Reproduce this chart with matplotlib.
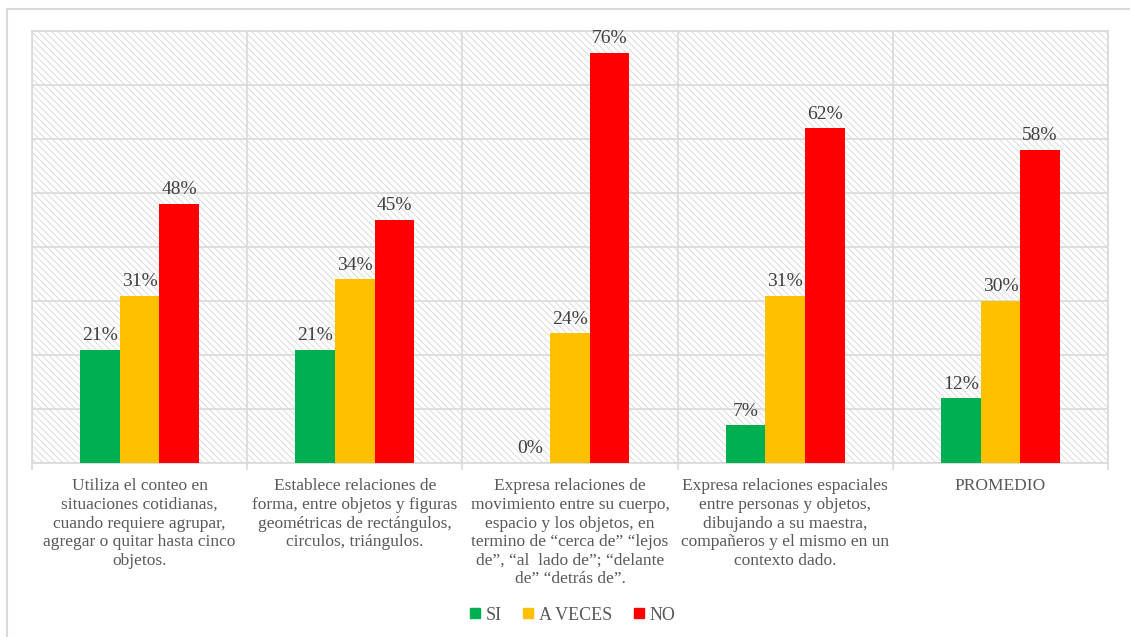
import numpy as np
import matplotlib.pyplot as plt
from matplotlib.patches import Rectangle
from matplotlib.lines import Line2D

plt.rcParams['font.family'] = ['Liberation Serif', 'DejaVu Serif']
plt.rcParams['hatch.linewidth'] = 0.6

# datos del gráfico
categorias = [
    "Utiliza el conteo en\nsituaciones cotidianas,\ncuando requiere agrupar,\nagregar o quitar hasta cinco\nobjetos.",
    "Establece relaciones de\nforma, entre objetos y figuras\ngeométricas de rectángulos,\ncirculos, triángulos.",
    "Expresa relaciones de\nmovimiento entre su cuerpo,\nespacio y los objetos, en\ntermino de “cerca de” “lejos\nde”, “al  lado de”; “delante\nde” “detrás de”.",
    "Expresa relaciones espaciales\nentre personas y objetos,\ndibujando a su maestra,\ncompañeros y el mismo en un\ncontexto dado.",
    "PROMEDIO",
]
series = ["SI", "A VECES", "NO"]
si = [21, 21, 0, 7, 12]
a_veces = [31, 34, 24, 31, 30]
no = [48, 45, 76, 62, 58]
colores = ["#00B050", "#FFC000", "#FF0000"]

gris = "#d9d9d9"
fig = plt.figure(figsize=(11.3, 6.37), dpi=100)

# marco exterior
fig.add_artist(Rectangle((7 / 1130, -0.1), 1.2, 1 - 9 / 637 + 0.1, transform=fig.transFigure,
                         fill=False, edgecolor=gris, lw=1.5))

ax = fig.add_axes([32 / 1130, 1 - 463 / 637, (1108 - 32) / 1130, (463 - 31) / 637])
ax.set_facecolor("white")
ax.add_patch(Rectangle((0, 0), 1, 1, transform=ax.transAxes, facecolor="white",
                       edgecolor="#d6d6d6", hatch="\\\\\\\\\\", lw=0, zorder=0))

x = np.arange(len(categorias))
w = 0.184
for k, (nombre, vals) in enumerate(zip(series, [si, a_veces, no])):
    barras = ax.bar(x + (k - 1) * w, vals, w, color=colores[k], label=nombre, zorder=3)
    for b, v in zip(barras, vals):
        ax.annotate(f"{v}%", (b.get_x() + b.get_width() / 2, v), xytext=(0, 4),
                    textcoords="offset points", ha="center", va="bottom",
                    fontsize=14, color="#404040")

ax.set_xlim(-0.5, len(categorias) - 0.5)
ax.set_ylim(0, 80)
ax.set_yticks(np.arange(0, 81, 10))
ax.set_yticklabels([])
ax.tick_params(axis="y", length=0)
ax.set_xticks(x)
ax.set_xticklabels(categorias, fontsize=12.5, color="#595959", linespacing=1.22, va="top")
ax.tick_params(axis="x", which="major", length=0, pad=11)
ax.set_xticks(np.arange(-0.5, len(categorias), 1), minor=True)
ax.tick_params(axis="x", which="minor", length=5, color=gris, width=1.2)
ax.grid(True, axis="y", color=gris, lw=1.2, zorder=1)
ax.grid(True, axis="x", which="minor", color=gris, lw=1.2, zorder=1)
for s in ax.spines.values():
    s.set_color(gris)
    s.set_linewidth(1.2)

handles = [Line2D([], [], marker="s", ls="", color=c, markersize=7) for c in colores]
fig.legend(handles, series, loc="center", bbox_to_anchor=(572 / 1130, 1 - 615 / 637),
           ncol=3, frameon=False, fontsize=13, handlelength=0.7, handletextpad=0.25,
           columnspacing=1.1, labelcolor="#595959")

fig.savefig("out.png", dpi=100)
